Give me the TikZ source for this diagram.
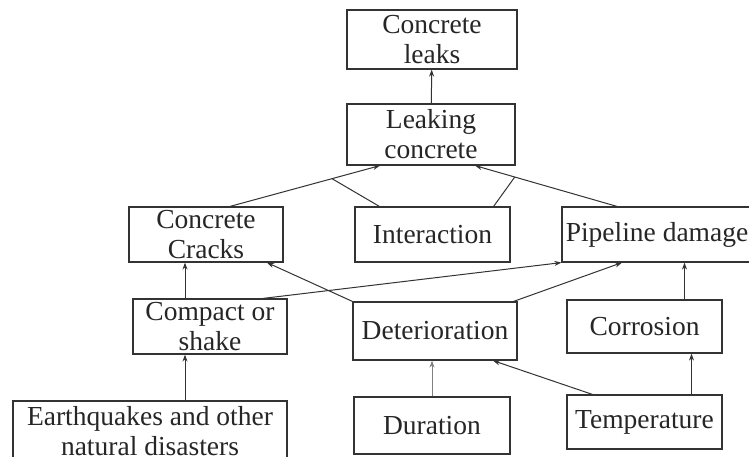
\documentclass[tikz,border=0pt]{standalone}
\usepackage{fontspec}
\setmainfont{Liberation Serif}
\usetikzlibrary{arrows.meta}
\begin{document}
\begin{tikzpicture}[
    x=1pt, y=-1pt,
    box/.style={rectangle, draw=black!80, line width=1.2pt, align=center, inner sep=0pt, text=black!85, font=\fontsize{27.5}{30}\selectfont},
    arrow/.style={line width=1pt, draw=black!80, ->, >={Stealth[length=7pt,width=5pt]}},
    link/.style={line width=1pt, draw=black!80}
]
    \useasboundingbox[fill=white] (0,0) rectangle (749,456);

    % Top
    \node [box, minimum width=170pt, minimum height=59pt] (leaks) at (432,39.5) {Concrete\\leaks};
    \node [box, minimum width=168pt, minimum height=61pt] (leaking) at (431,134.5) {Leaking\\concrete};

    % Middle row
    \node [box, minimum width=154pt, minimum height=55pt] (cracks) at (206,234.5) {Concrete\\Cracks};
    \node [box, minimum width=155pt, minimum height=55pt] (interaction) at (432.5,234.5) {Interaction};
    \node [box, minimum width=190pt, minimum height=55pt] (pipeline) at (657,234.5) {Pipeline damage};

    \node [box, minimum width=154pt, minimum height=55pt] (compact) at (210,326.5) {Compact or\\shake};
    \node [box, minimum width=164pt, minimum height=58pt] (deterioration) at (435,331) {Deterioration};
    \node [box, minimum width=155pt, minimum height=53pt] (corrosion) at (644.5,326.5) {Corrosion};

    % Causes
    \node [box, minimum width=274pt, minimum height=60pt] (quakes) at (150,431) {Earthquakes and other\\natural disasters};
    \node [box, minimum width=156pt, minimum height=57pt] (duration) at (432,425.5) {Duration};
    \node [box, minimum width=155pt, minimum height=54pt] (temperature) at (644.5,422) {Temperature};

    % Arrows
    \draw [arrow] (leaking) -- (leaks);
    \draw [arrow] ([xshift=24pt]cracks.north) -- coordinate[pos=0.68] (j1) ([xshift=-51pt]leaking.south);
    \draw [arrow] ([xshift=-40pt]pipeline.north) -- coordinate[pos=0.72] (j2) ([xshift=44pt]leaking.south);
    \draw [link] ([xshift=25pt]interaction.north west) -- (j1);
    \draw [link] ([xshift=-17pt]interaction.north east) -- (j2);

    \draw [arrow] ([xshift=-25pt]compact.north) -- ([xshift=-21pt]cracks.south);
    \draw [arrow] ([xshift=53pt]compact.north) -- (pipeline.south west);
    \draw [arrow] (deterioration.north west) -- ([xshift=61pt]cracks.south);
    \draw [arrow] ([xshift=-4pt]deterioration.north east) -- ([xshift=-35pt]pipeline.south);
    \draw [arrow] ([xshift=40pt]corrosion.north) -- ([xshift=40pt]corrosion.north |- pipeline.south);

    \draw [arrow] ([xshift=35pt]quakes.north) -- ([xshift=-25pt]compact.south);
    \draw [arrow, draw=black!50] (duration.north) -- (duration.north |- deterioration.south);
    \draw [arrow] ([xshift=26pt]temperature.north west) -- ([xshift=58pt]deterioration.south);
    \draw [arrow] ([xshift=47pt]temperature.north) -- ([xshift=47pt]temperature.north |- corrosion.south);
\end{tikzpicture}
\end{document}
